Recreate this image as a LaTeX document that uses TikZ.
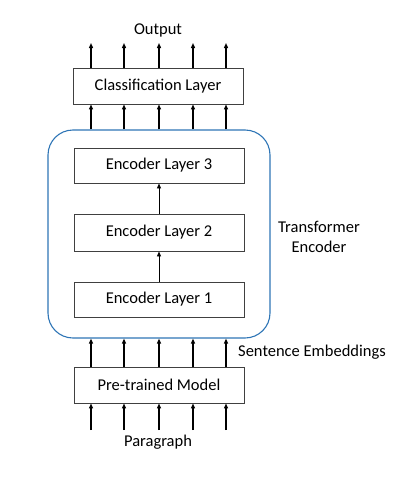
\documentclass[tikz,border=0pt]{standalone}
\usepackage{fontspec}
\setmainfont{Carlito}
\usetikzlibrary{arrows.meta}
\begin{document}
\begin{tikzpicture}[x=1pt,y=-1pt,
  lay/.style={draw=black!75,line width=0.9pt,minimum width=170pt,minimum height=36pt,inner sep=0pt,font=\fontsize{16.5}{19}\selectfont},
  lbl/.style={font=\fontsize{16.5}{19}\selectfont,inner sep=0pt},
  arr/.style={line width=1.4pt,-{Triangle[length=5pt,width=4pt]}},
  arrs/.style={line width=0.9pt,-{Triangle[length=5pt,width=4pt]}}]
\useasboundingbox (0,0) rectangle (403,479);
\node[draw={rgb,255:red,46;green,117;blue,182},line width=1.1pt,rounded corners=25pt,minimum width=222pt,minimum height=208pt,inner sep=0pt] (enc) at (159,234) {};
\node[lay] (cls) at (158,86) {Classification Layer};
\node[lay,minimum height=35pt] (e3) at (159,165.5) {Encoder Layer 3};
\node[lay,minimum height=37pt] (e2) at (159,232.5) {Encoder Layer 2};
\node[lay,minimum height=35pt] (e1) at (159,299.5) {Encoder Layer 1};
\node[lay] (pre) at (159,385) {Pre-trained Model};
\node[lbl] (out) at (158,30) {Output};
\node[lbl] (par) at (158,442) {Paragraph};
\node[lbl,anchor=west] (sent) at (238,352) {Sentence Embeddings};
\node[lbl,align=center,font=\fontsize{16.5}{20}\selectfont] (te) at (319,237) {Transformer\\Encoder};
\draw[arrs] (e1) -- (e2);
\draw[arrs] (e2) -- (e3);
\foreach \i/\x in {1/91,2/124,3/159,4/193,5/226}{
  \coordinate (o\i) at (\x,43);
  \coordinate (p\i) at (\x,430);
  \draw[arr] (cls.north -| o\i) -- (o\i);
  \draw[arr] (enc.north -| o\i) -- (cls.south -| o\i);
  \draw[arr] (pre.north -| o\i) -- (enc.south -| o\i);
  \draw[arr] (p\i) -- (pre.south -| o\i);
}
\end{tikzpicture}
\end{document}
